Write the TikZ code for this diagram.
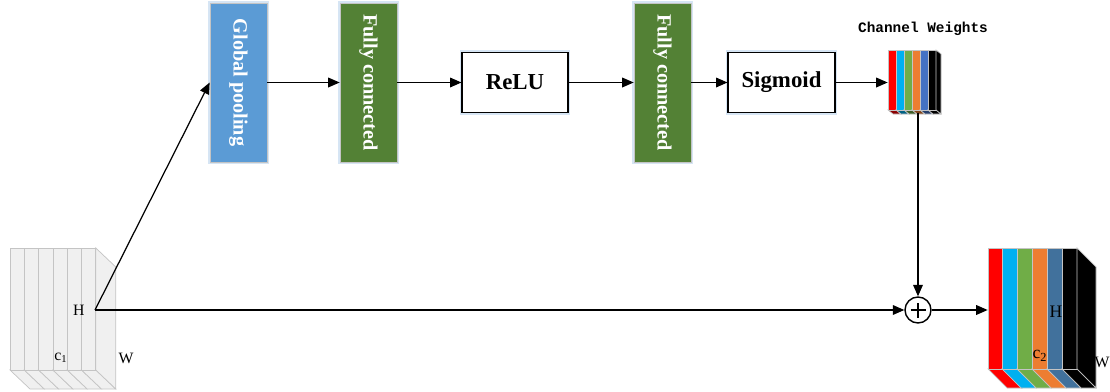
\documentclass[tikz,border=0pt]{standalone}
\usepackage{fontspec}
\setmainfont{Liberation Serif}
\newfontfamily\cwfont{Liberation Mono}
\usetikzlibrary{arrows.meta}

\definecolor{poolblue}{HTML}{5B9BD5}
\definecolor{fcgreen}{HTML}{538135}
\definecolor{chcyan}{HTML}{00B0F0}
\definecolor{chgreen}{HTML}{70AD47}
\definecolor{chorange}{HTML}{ED7D31}
\definecolor{chsteel}{HTML}{41719C}
\definecolor{chblue}{HTML}{4472C4}
\definecolor{glow}{HTML}{D6E5F4}
\definecolor{slicegray}{HTML}{F0F0F0}
\definecolor{sliceedge}{HTML}{C4C4C4}

\tikzset{
  glowbox/.style={preaction={draw=glow, line width=2.5pt}},
  vbox/.style={glowbox, draw=sliceedge, text=white, inner sep=0pt,
    font=\fontsize{11.5}{13}\selectfont\bfseries,
    minimum width=1.14cm, minimum height=3.18cm},
  actbox/.style={glowbox, draw=black, fill=white, line width=0.6pt, inner sep=0pt,
    font=\fontsize{13}{15}\selectfont\bfseries, minimum height=1.2cm},
  dimlabel/.style={font=\fontsize{9}{10}\selectfont, inner sep=0pt},
  conn/.style={->, line width=0.7pt},
}

\begin{document}
\begin{tikzpicture}[x=0.02cm, y=-0.02cm, >={Triangle[length=6.5pt,width=5.5pt]}]
        \useasboundingbox (0,0) rectangle (1110,392);

        % Input feature map (gray slices)
        \foreach \x in {10,24.3,38.6,52.9,67.2,81.5}{
          \filldraw[fill=slicegray, draw=sliceedge] (\x,370) -- ++(14.3,0) -- ++(20,19) -- ++(-14.3,0) -- cycle;
          \filldraw[fill=slicegray, draw=sliceedge] (\x,248) rectangle ++(14.3,122);
        }
        \filldraw[fill=slicegray, draw=sliceedge] (95.8,248) -- (115.8,267) -- (115.8,389) -- (95.8,370) -- cycle;
        \coordinate (hin) at (95,310);
        \node[dimlabel, anchor=east] (hinlab) at (85,310) {H};
        \node[dimlabel] (cin) at (61,358) {c\textsubscript{1}};
        \node[dimlabel] (win) at (126,358) {W};

        % Squeeze-and-excitation branch
        \node[vbox, fill=poolblue] (gp) at (238.5,82.5) {\rotatebox{-90}{Global pooling}};
        \node[vbox, fill=fcgreen] (fc1) at (368.5,82.5) {\rotatebox{-90}{Fully connected}};
        \node[actbox, minimum width=2.12cm] (relu) at (515,82.5) {ReLU};
        \node[vbox, fill=fcgreen] (fc2) at (662.5,82.5) {\rotatebox{-90}{Fully connected}};
        \node[actbox, minimum width=2.14cm] (sig) at (781.5,82.5) {Sigmoid};

        % Channel weights (small colored stack)
        \foreach \x/\c in {888/red,896/chcyan,904/chgreen,912/chorange,920/chblue,928/black}{
          \filldraw[fill=\c!55!black, draw=sliceedge] (\x,110) -- ++(8,0) -- ++(5,4) -- ++(-8,0) -- cycle;
          \filldraw[fill=\c, draw=sliceedge] (\x,50) rectangle ++(8,60);
        }
        \filldraw[fill=black, draw=sliceedge] (936,50) -- (941,54) -- (941,114) -- (936,110) -- cycle;
        \node[minimum width=0.96cm, minimum height=1.2cm, inner sep=0pt] (cw) at (912,82.5) {};
        \node[font=\cwfont\bfseries\fontsize{8.2}{10}\selectfont] (cwlab) at (923,29) {Channel Weights};

        % Scaling (+) and output feature map
        \node[circle, draw, line width=0.8pt, minimum size=0.52cm, inner sep=0pt,
              path picture={\draw[line width=0.6pt] ([xshift=-0.15cm]path picture bounding box.center) -- ++(0.3cm,0)
                            ([yshift=-0.15cm]path picture bounding box.center) -- ++(0,0.3cm);}] (add) at (918,310) {};

        \foreach \x/\c in {988/red,1002/chcyan,1017/chgreen,1032/chorange,1047/chsteel,1062/black}{
          \filldraw[fill=\c, draw=sliceedge] (\x,369) -- ++(15,0) -- ++(19,19) -- ++(-15,0) -- cycle;
          \filldraw[fill=\c, draw=sliceedge] (\x,248) rectangle ++(15,121);
        }
        \filldraw[fill=black, draw=sliceedge] (1077,248) -- (1096,267) -- (1096,388) -- (1077,369) -- cycle;
        \node[minimum width=1.78cm, minimum height=2.4cm, inner sep=0pt] (outmap) at (1032.5,310) {};
        \node[dimlabel, font=\fontsize{10}{11}\selectfont] (hout) at (1056,312) {H};
        \node[dimlabel, font=\fontsize{10}{11}\selectfont] (cout) at (1040,356) {c\textsubscript{2}};
        \node[dimlabel, anchor=east] (wout) at (1110,362) {W};

        % Connectors
        \draw[conn] (hin) -- (gp.west);
        \draw[conn] (gp.east) -- (fc1.west);
        \draw[conn] (fc1.east) -- (relu.west);
        \draw[conn] (relu.east) -- (fc2.west);
        \draw[conn] (fc2.east) -- (sig.west);
        \draw[conn] (sig.east) -- (cw.west);
        \draw[conn] (add |- cw.south) -- (add.north);
        \draw[conn] (hin) -- (add.west);
        \draw[conn] (add.east) -- (outmap.west);
\end{tikzpicture}
\end{document}
